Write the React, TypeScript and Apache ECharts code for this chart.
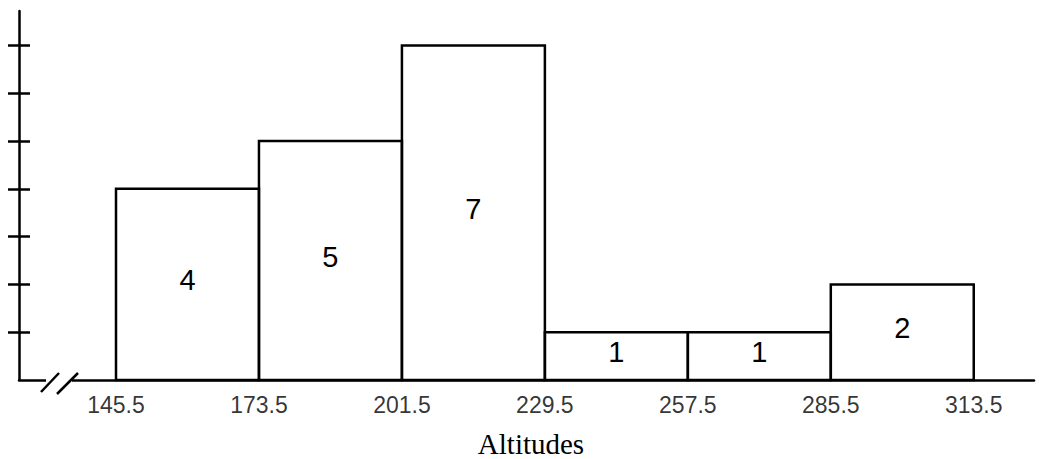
import React, { useEffect, useRef } from "react";
import * as echarts from "echarts";

const binEdges = [145.5, 173.5, 201.5, 229.5, 257.5, 285.5, 313.5];
const counts = [4, 5, 7, 1, 1, 2];
const yTicks = [1, 2, 3, 4, 5, 6, 7];
const xTitle = "Altitudes";

export default function App() {
  const ref = useRef<HTMLDivElement>(null);
  useEffect(() => {
    if (!ref.current) return;
    const chart = echarts.init(ref.current, null, { renderer: "svg" });
    const bars = counts.map((c, i) => [binEdges[i], binEdges[i + 1], c]);
    const edgeLabels = binEdges.map((e) => [e, 0]);
    chart.setOption({
      animation: false,
      backgroundColor: "#fff",
      grid: { left: 19, right: 5, top: 11, bottom: 79 },
      xAxis: {
        type: "value",
        min: 126.5,
        max: 325.3,
        axisLine: { show: true, onZero: false, lineStyle: { color: "#000", width: 2.5 } },
        axisTick: { show: false },
        axisLabel: { show: false },
        splitLine: { show: false },
      },
      yAxis: [
        {
          type: "value",
          min: 0,
          max: 7.72,
          interval: 1,
          axisLine: { show: true, lineStyle: { color: "#000", width: 2.5 } },
          axisTick: { show: true, length: 11, inside: false, customValues: yTicks, lineStyle: { color: "#000", width: 2.5 } },
          axisLabel: { show: false },
          splitLine: { show: false },
        },
        {
          type: "value",
          position: "left",
          min: 0,
          max: 7.72,
          interval: 1,
          axisLine: { show: false },
          axisTick: { show: true, length: 11, inside: true, customValues: yTicks, lineStyle: { color: "#000", width: 2.5 } },
          axisLabel: { show: false },
          splitLine: { show: false },
        },
      ],
      series: [
        {
          type: "custom",
          data: bars,
          encode: { x: [0, 1], y: 2 },
          clip: false,
          renderItem: (params: any, api: any) => {
            const x0 = api.value(0);
            const x1 = api.value(1);
            const c = api.value(2);
            const p0 = api.coord([x0, c]);
            const p1 = api.coord([x1, 0]);
            return {
              type: "group",
              children: [
                {
                  type: "rect",
                  shape: { x: p0[0], y: p0[1], width: p1[0] - p0[0], height: p1[1] - p0[1] },
                  style: { fill: "none", stroke: "#000", lineWidth: 2.5 },
                },
                {
                  type: "text",
                  style: {
                    text: String(c),
                    x: (p0[0] + p1[0]) / 2,
                    y: (p0[1] + p1[1]) / 2 - 4,
                    align: "center",
                    verticalAlign: "middle",
                    font: '29px "Liberation Sans", Arial, sans-serif',
                    fill: "#000",
                  },
                },
              ],
            };
          },
        },
        {
          type: "scatter",
          data: edgeLabels,
          symbolSize: 0,
          clip: false,
          silent: true,
          label: {
            show: true,
            position: "bottom",
            distance: 13,
            formatter: (p: any) => String(p.value[0]),
            color: "#000",
            fontSize: 23,
            fontFamily: '"Liberation Sans", Arial, sans-serif',
          },
        },
      ],
      graphic: [
        { type: "rect", shape: { x: 46, y: 376, width: 26, height: 8 }, style: { fill: "#fff" }, z: 100 },
        { type: "line", shape: { x1: 41, y1: 392, x2: 59, y2: 373 }, style: { stroke: "#000", lineWidth: 2.5 }, z: 101 },
        { type: "line", shape: { x1: 57, y1: 394, x2: 78, y2: 373 }, style: { stroke: "#000", lineWidth: 2.5 }, z: 101 },
        {
          type: "text",
          x: 531,
          y: 444,
          style: {
            text: xTitle,
            align: "center",
            verticalAlign: "middle",
            font: '29px "Liberation Serif", "Times New Roman", serif',
            fill: "#000",
          },
        },
      ],
    });
    return () => chart.dispose();
  }, []);
  return (
    <div
      ref={ref}
      style={{ position: "fixed", left: 0, top: 0, width: 1039, height: 459 }}
    />
  );
}
